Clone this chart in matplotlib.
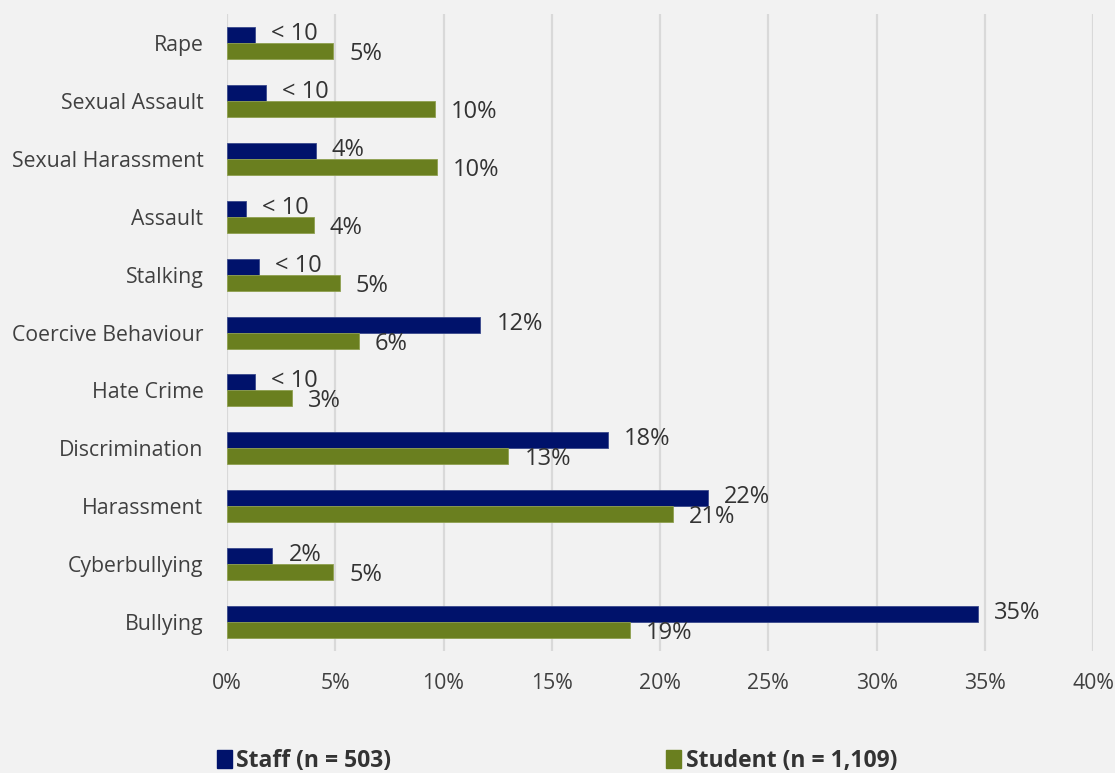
import matplotlib
matplotlib.use("Agg")
import matplotlib.pyplot as plt
from matplotlib.patches import Patch
import numpy as np

plt.rcParams["font.family"] = ["Open Sans", "DejaVu Sans"]

CATEGORIES = ["Rape", "Sexual Assault", "Sexual Harassment", "Assault", "Stalking",
              "Coercive Behaviour", "Hate Crime", "Discrimination", "Harassment",
              "Cyberbullying", "Bullying"]
STAFF = [1.3, 1.8, 4.1, 0.9, 1.5, 11.7, 1.3, 17.6, 22.2, 2.1, 34.7]
STUDENT = [4.9, 9.6, 9.7, 4.0, 5.2, 6.1, 3.0, 13.0, 20.6, 4.9, 18.6]
# staff counts under 10 are suppressed in the labels
STAFF_SUPPRESSED = [True, True, False, True, True, False, True, False, False, False, False]

C_STAFF = "#00126b"
C_STUDENT = "#6a7f1f"
BG = "#f2f2f2"
TXT = "#333333"

fig = plt.figure(figsize=(11.15, 7.73), dpi=100, facecolor=BG)
ax = fig.add_axes([0.2036, 0.1578, 0.7767, 0.824], facecolor=BG)

y = np.arange(len(CATEGORIES))
h = 0.277
ax.barh(y - h / 2, STAFF, h, color=C_STAFF, edgecolor="#3a4a8c", linewidth=0.6, zorder=3)
ax.barh(y + h / 2, STUDENT, h, color=C_STUDENT, edgecolor="#8fa04f", linewidth=0.6, zorder=3)

for i in range(len(CATEGORIES)):
    lab = "< 10" if STAFF_SUPPRESSED[i] else f"{STAFF[i]:.0f}%"
    ax.annotate(lab, (STAFF[i], y[i] - h / 2), xytext=(16, 1), textcoords="offset pixels",
                ha="left", va="center", fontsize=17, color=TXT)
    ax.annotate(f"{STUDENT[i]:.0f}%", (STUDENT[i], y[i] + h / 2), xytext=(16, -3),
                textcoords="offset pixels", ha="left", va="center", fontsize=17, color=TXT)

ax.set_xlim(0, 40)
ax.set_ylim(len(CATEGORIES) - 0.5, -0.5)
ax.set_xticks(np.arange(0, 41, 5))
ax.set_xticklabels([f"{v}%" for v in range(0, 41, 5)])
ax.set_yticks(y)
ax.set_yticklabels(CATEGORIES)
ax.tick_params(axis="both", length=0, labelsize=15.3, labelcolor="#404040")
ax.tick_params(axis="x", pad=16)
ax.tick_params(axis="y", pad=17)
ax.grid(axis="x", color="#d9d9d9", linewidth=1.6, zorder=0)
for s in ax.spines.values():
    s.set_visible(False)

handles = [Patch(color=C_STAFF, label="Staff (n = 503)"),
           Patch(color=C_STUDENT, label="Student (n = 1,109)")]
fig.legend(handles=handles, loc="center", bbox_to_anchor=(0.4995, 0.016), ncol=2,
           frameon=False, prop={"weight": "bold", "size": 16.5}, handlelength=0.65,
           handleheight=0.85, handletextpad=0.2, columnspacing=12.0, labelcolor=TXT)

fig.savefig("out.png", dpi=100, facecolor=BG)
